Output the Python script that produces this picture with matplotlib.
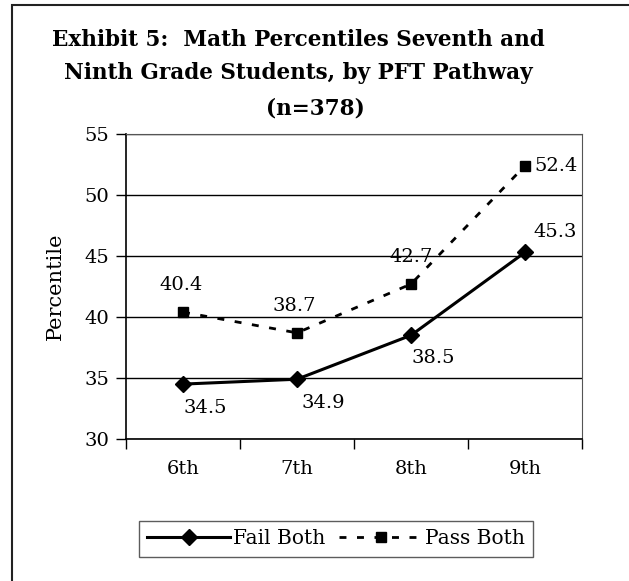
import matplotlib.pyplot as plt
from matplotlib.patches import Rectangle

# datos
grades = ['6th', '7th', '8th', '9th']
fail_both = [34.5, 34.9, 38.5, 45.3]
pass_both = [40.4, 38.7, 42.7, 52.4]

plt.rcParams['font.family'] = ['DejaVu Serif']

fig = plt.figure(figsize=(6.29, 5.81), dpi=100)

# marco del grafico (recortado a la derecha y abajo)
fig.patches.append(Rectangle((11.5 / 629, -0.05), 1.2, 1 - 5.5 / 581 + 0.05,
                             transform=fig.transFigure, fill=False,
                             edgecolor='#222222', linewidth=1.5))

ax = fig.add_axes([126 / 629, 1 - 439 / 581, 456 / 629, 305 / 581])
x = list(range(len(grades)))

ax.plot(x, fail_both, color='black', linewidth=2.2, marker='D', markersize=8.5,
        label='Fail Both')
ax.plot(x, pass_both, color='black', linewidth=2.0, linestyle=(0, (2.5, 3.8)),
        marker='s', markersize=7.5, label='Pass Both')

ax.set_xlim(-0.5, 3.5)
ax.set_ylim(30, 55)
ax.set_yticks(range(30, 56, 5))
ax.set_xticks(x)
ax.set_xticklabels(grades)
ax.set_xticks([-0.5, 0.5, 1.5, 2.5, 3.5], minor=True)
ax.tick_params(axis='x', which='major', length=0, pad=15, labelsize=14)
ax.tick_params(axis='x', which='minor', length=7, width=1)
ax.tick_params(axis='y', length=7, width=1, labelsize=14, pad=5)
ax.yaxis.grid(True, color='black', linewidth=1)
for s in ['top', 'right']:
    ax.spines[s].set_color('#555555')
for s in ['left', 'bottom']:
    ax.spines[s].set_linewidth(1.2)
ax.set_ylabel('Percentile', fontsize=15, labelpad=14)

# etiquetas de datos
fail_off = [(22, -24), (26, -24), (22, -23), (30, 20)]
pass_off = [(-2, 27), (-3, 27), (0, 27), (9, 0)]
for i, v in enumerate(fail_both):
    ax.annotate(f'{v}', (i, v), xytext=fail_off[i], textcoords='offset pixels',
                ha='center', va='center', fontsize=14)
for i, v in enumerate(pass_both):
    ax.annotate(f'{v}', (i, v), xytext=pass_off[i], textcoords='offset pixels',
                ha='left' if i == 3 else 'center', va='center', fontsize=14)

fig.text(298 / 629, 1 - 40 / 581, 'Exhibit 5:  Math Percentiles Seventh and',
         ha='center', va='center', fontsize=15.5, fontweight='bold')
fig.text(298 / 629, 1 - 73 / 581, 'Ninth Grade Students, by PFT Pathway',
         ha='center', va='center', fontsize=15.5, fontweight='bold')
fig.text(315 / 629, 1 - 108 / 581, '(n=378)',
         ha='center', va='center', fontsize=15.5, fontweight='bold')

leg = fig.legend(loc='center', bbox_to_anchor=(336 / 629, 1 - 539 / 581),
                 ncol=2, fontsize=14.5, frameon=True, fancybox=False,
                 edgecolor='#333333', handlelength=4.1, columnspacing=0.7,
                 handletextpad=0.15, borderpad=0.4)
leg.get_frame().set_linewidth(1)

fig.savefig('out.png', dpi=100)
